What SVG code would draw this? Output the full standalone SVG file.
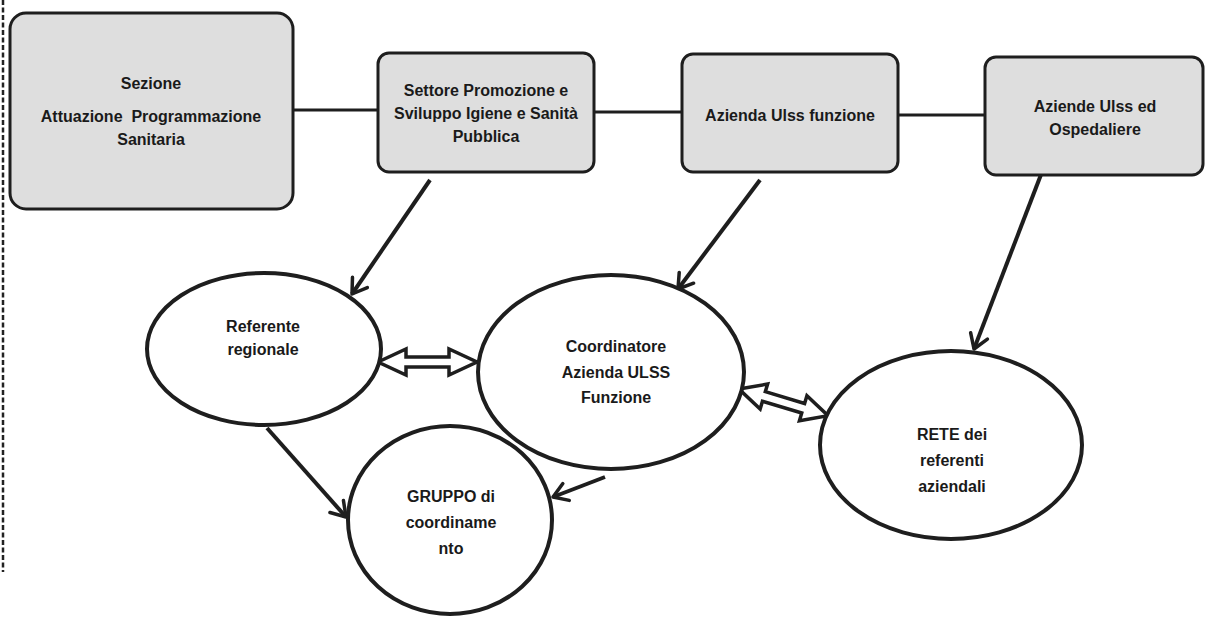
<svg xmlns="http://www.w3.org/2000/svg" width="1209" height="618" viewBox="0 0 1209 618">
<style>
.box{fill:#dedede;stroke:#1e1e1e;stroke-width:3}
.ell{fill:#ffffff;stroke:#1e1e1e;stroke-width:4}
.t{font-family:"Liberation Sans",Arial,sans-serif;font-weight:bold;font-size:16px;fill:#1a1a1a;text-anchor:middle}
.ln{stroke:#1e1e1e;stroke-width:3;fill:none}
.ar{stroke:#1e1e1e;stroke-width:4;fill:none;marker-end:url(#head)}
.dbl{fill:#ffffff;stroke:#1e1e1e;stroke-width:3.5;stroke-linejoin:miter}
</style>
<defs>
<marker id="head" markerUnits="userSpaceOnUse" markerWidth="24" markerHeight="24" viewBox="0 0 24 24" refX="20" refY="12" orient="auto">
<path d="M6,3 L20,12 L6,21" fill="none" stroke="#1e1e1e" stroke-width="3.5" stroke-linecap="round" stroke-linejoin="round"/>
</marker>
</defs>
<rect width="1209" height="618" fill="#ffffff"/>
<line x1="3" y1="0" x2="3" y2="572" stroke="#222" stroke-width="2.5" stroke-dasharray="5,2.5"/>

<g id="connectors">
<line class="ln" x1="293" y1="110" x2="378" y2="110"/>
<line class="ln" x1="594" y1="112" x2="682" y2="112"/>
<line class="ln" x1="898" y1="115" x2="985" y2="115"/>
<line class="ar" x1="430" y1="180" x2="352" y2="294"/>
<line class="ar" x1="760" y1="180" x2="678" y2="289"/>
<line class="ar" x1="1042" y1="172" x2="974" y2="349"/>
<line class="ar" x1="267" y1="428" x2="346" y2="517"/>
<line class="ar" x1="605" y1="477" x2="553" y2="497"/>
<path class="dbl" transform="translate(378,362)" d="M0,0 L28,-13 L28,-5 L71,-5 L71,-13 L99,0 L71,13 L71,5 L28,5 L28,13 Z"/>
<path class="dbl" transform="translate(739,389) rotate(16.7)" d="M0,0 L26,-13 L26,-5 L67,-5 L67,-13 L93,0 L67,13 L67,5 L26,5 L26,13 Z"/>
</g>

<g id="n-sezione">
<rect class="box" x="10" y="13" width="283" height="196" rx="16"/>
<text class="t" x="151" y="89">Sezione</text>
<text class="t" x="151" y="122" xml:space="preserve">Attuazione  Programmazione</text>
<text class="t" x="151" y="145">Sanitaria</text>
</g>

<g id="n-settore">
<rect class="box" x="378" y="53" width="216" height="119" rx="11"/>
<text class="t" x="486" y="96">Settore Promozione e</text>
<text class="t" x="486" y="119">Sviluppo Igiene e Sanità</text>
<text class="t" x="486" y="142">Pubblica</text>
</g>

<g id="n-azienda">
<rect class="box" x="682" y="54" width="216" height="118" rx="11"/>
<text class="t" x="790" y="121">Azienda Ulss funzione</text>
</g>

<g id="n-aziende">
<rect class="box" x="985" y="57" width="218" height="118" rx="11"/>
<text class="t" x="1095" y="112">Aziende Ulss ed</text>
<text class="t" x="1095" y="135">Ospedaliere</text>
</g>

<g id="n-referente">
<ellipse class="ell" cx="264" cy="349" rx="117" ry="76"/>
<text class="t" x="263" y="332">Referente</text>
<text class="t" x="263" y="355">regionale</text>
</g>

<g id="n-coordinatore">
<ellipse class="ell" cx="611" cy="372" rx="133" ry="97"/>
<text class="t" x="616" y="352">Coordinatore</text>
<text class="t" x="616" y="378">Azienda ULSS</text>
<text class="t" x="616" y="403">Funzione</text>
</g>

<g id="n-rete">
<ellipse class="ell" cx="951" cy="445" rx="131" ry="94"/>
<text class="t" x="952" y="440">RETE dei</text>
<text class="t" x="952" y="466">referenti</text>
<text class="t" x="952" y="492">aziendali</text>
</g>

<g id="n-gruppo">
<ellipse class="ell" cx="450" cy="520" rx="102" ry="94"/>
<text class="t" x="451" y="502">GRUPPO di</text>
<text class="t" x="451" y="528">coordiname</text>
<text class="t" x="451" y="554">nto</text>
</g>
</svg>
